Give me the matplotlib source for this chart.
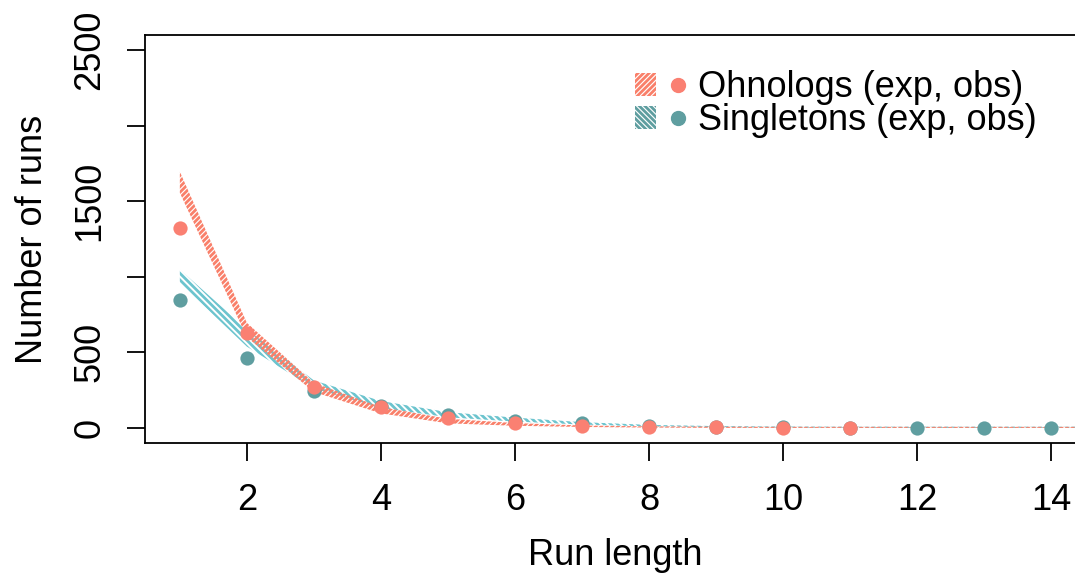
import matplotlib

matplotlib.use("Agg")

import matplotlib.pyplot as plt
from matplotlib.lines import Line2D
from matplotlib.patches import Patch
from matplotlib.legend_handler import HandlerTuple

plt.rcParams["font.family"] = ["Liberation Sans", "DejaVu Sans"]
plt.rcParams["hatch.linewidth"] = 2.0

# observed run counts
obs_x_ohno = [1, 2, 3, 4, 5, 6, 7, 8, 9, 10, 11]
obs_ohno = [1325, 630, 272, 139, 66, 30, 13, 6, 3, 2, 1]
obs_x_sing = [1, 2, 3, 4, 5, 6, 7, 8, 9, 10, 11, 12, 13, 14]
obs_sing = [848, 464, 245, 146, 86, 46, 30, 13, 7, 4, 2, 1, 1, 1]

# expected ranges (lower, upper)
exp_x = [1, 2, 3, 4, 5, 6, 7, 8, 9, 10, 11, 12, 13, 14, 15, 16]
exp_ohno_lo = [1555, 600, 238, 96, 30, 14, 6, 2, 0, 0, 0, 0, 0, 0, 0, 0]
exp_ohno_hi = [1695, 695, 298, 138, 60, 32, 16, 10, 8, 7, 7, 7, 7, 7, 7, 7]
exp_sing_lo = [960, 538, 260, 133, 70, 42, 22, 10, 5, 2, 1, 0, 0, 0, 0, 0]
exp_sing_hi = [1048, 652, 314, 178, 104, 68, 38, 20, 12, 9, 8, 8, 8, 8, 8, 8]

ohno_col = "#FA8072"
ohno_band = "#F9806A"
sing_col = "#5F9EA0"
sing_band = "#6CC4CE"

fig = plt.figure(figsize=(10.75, 5.78), dpi=100)
ax = fig.add_axes([145 / 1075, 135 / 578, (1086 - 145) / 1075, (443 - 35) / 578])

ax.fill_between(exp_x, exp_sing_lo, exp_sing_hi, facecolor="none", edgecolor=sing_band,
                hatch="\\\\\\\\\\", linewidth=0)
ax.fill_between(exp_x, exp_ohno_lo, exp_ohno_hi, facecolor="none", edgecolor=ohno_band,
                hatch="//////", linewidth=0)
ax.scatter(obs_x_sing, obs_sing, s=105, color=sing_col, zorder=3, linewidths=0)
ax.scatter(obs_x_ohno, obs_ohno, s=105, color=ohno_col, zorder=4, linewidths=0)

ax.set_xlim(0.48, 14.52)
ax.set_ylim(-100, 2600)
ax.set_xticks([2, 4, 6, 8, 10, 12, 14])
ax.set_yticks([0, 500, 1000, 1500, 2000, 2500])
ax.set_yticklabels(["0", "500", "", "1500", "", "2500"], rotation=90, va="center")
ax.tick_params(axis="both", direction="out", length=13, width=1.3, labelsize=26)
ax.tick_params(axis="y", pad=14)
ax.tick_params(axis="x", pad=16)
for spine in ax.spines.values():
    spine.set_linewidth(1.3)

ax.set_xlabel("Run length", fontsize=26, labelpad=14)
ax.set_ylabel("Number of runs", fontsize=26, labelpad=16)

handles = [
    (Patch(facecolor="none", edgecolor=ohno_band, hatch="//////", linewidth=0),
     Line2D([], [], marker="o", linestyle="none", color=ohno_col, markersize=10)),
    (Patch(facecolor="none", edgecolor=sing_col, hatch="\\\\\\\\\\\\", linewidth=0),
     Line2D([], [], marker="o", linestyle="none", color=sing_col, markersize=10)),
]
ax.legend(handles, ["Ohnologs (exp, obs)", "Singletons (exp, obs)"],
          handler_map={tuple: HandlerTuple(ndivide=None, pad=0.3)},
          loc="upper left", bbox_to_anchor=(0.505, 0.95), frameon=False, fontsize=26,
          handlelength=1.5, handleheight=0.6, handletextpad=0.25, labelspacing=-0.05,
          borderaxespad=0)

fig.savefig("out.png", dpi=100)
